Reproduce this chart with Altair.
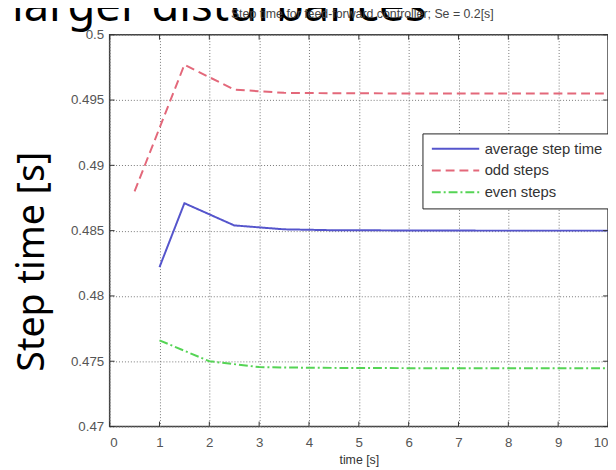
import altair as alt
import pandas as pd

slide_title = "larger disturbances"
big_ylabel = "Step time [s]"
chart_title = "Step time for feed-forward controller; Se = 0.2[s]"
x_title = "time [s]"

series_names = ["average step time", "odd steps", "even steps"]
series_colors = ["#5555cc", "#e3687a", "#55d455"]
series_dashes = [[1, 0], [9, 5], [9, 3, 2, 3]]

avg_t = [1.0, 1.5, 2.5, 3.5, 4.5, 5.5, 6.5, 7.5, 8.5, 9.5, 10.0]
avg_v = [0.4822, 0.4871, 0.4854, 0.48510, 0.48503, 0.48502, 0.48501, 0.48500, 0.48500, 0.48500, 0.48500]

odd_t = [0.5, 1.5, 2.5, 3.5, 4.5, 5.5, 6.5, 7.5, 8.5, 9.5, 10.0]
odd_v = [0.4880, 0.4977, 0.4958, 0.49555, 0.49552, 0.49551, 0.49550, 0.49550, 0.49550, 0.49550, 0.49550]

even_t = [1.0, 2.0, 3.0, 4.0, 5.0, 6.0, 7.0, 8.0, 9.0, 10.0]
even_v = [0.4766, 0.4750, 0.47455, 0.47450, 0.47448, 0.47447, 0.47447, 0.47446, 0.47446, 0.47446]

x_ticks = [0, 1, 2, 3, 4, 5, 6, 7, 8, 9, 10]
y_ticks = [0.47, 0.475, 0.48, 0.485, 0.49, 0.495, 0.5]

W, H = 505, 397

rows = []
for name, ts, vs in zip(series_names, [avg_t, odd_t, even_t], [avg_v, odd_v, even_v]):
    for t, v in zip(ts, vs):
        rows.append({"series": name, "t": t, "v": v})
df = pd.DataFrame(rows)

xscale = alt.Scale(domain=[0, 10], nice=False, zero=False)
yscale = alt.Scale(domain=[0.47, 0.5], nice=False, zero=False)

legend = alt.Legend(
    title=None, orient="none", legendX=317, legendY=100,
    strokeColor="#222", fillColor="white", padding=8, cornerRadius=0,
    symbolType="M-4,0H4", symbolSize=144, symbolStrokeWidth=2,
    symbolOffset=18, labelOffset=22,
    labelFont="Liberation Sans", labelFontSize=15, labelColor="#333",
    rowPadding=6,
)

axis_common = dict(
    grid=True, gridColor="#777", gridDash=[1, 2], gridWidth=1,
    domain=False, ticks=False,
    labelFont="Liberation Sans", labelFontSize=13.5, labelColor="#555",
)

lines = alt.Chart(df).mark_line(strokeWidth=2, clip=True).encode(
    x=alt.X("t:Q", scale=xscale, axis=alt.Axis(
        values=x_ticks, title=x_title, format="d", labelPadding=9,
        titleFont="Liberation Sans", titleFontSize=12.5, titleFontWeight="normal",
        titleColor="#333", titleY=40, titleBaseline="bottom", **axis_common)),
    y=alt.Y("v:Q", scale=yscale, axis=alt.Axis(
        values=y_ticks, title=None, format=".3~f", labelPadding=6, **axis_common)),
    color=alt.Color("series:N", scale=alt.Scale(domain=series_names, range=series_colors), legend=legend),
    strokeDash=alt.StrokeDash("series:N", scale=alt.Scale(domain=series_names, range=series_dashes), legend=legend),
)

xt = pd.DataFrame({"t": x_ticks})
yt = pd.DataFrame({"v": y_ticks})
tick_col = "#333"
tb = alt.Chart(xt).mark_rule(color=tick_col).encode(x="t:Q", y=alt.value(H), y2=alt.value(H - 5))
tt = alt.Chart(xt).mark_rule(color=tick_col).encode(x="t:Q", y=alt.value(0), y2=alt.value(5))
tl = alt.Chart(yt).mark_rule(color=tick_col).encode(y="v:Q", x=alt.value(0), x2=alt.value(5))
tr = alt.Chart(yt).mark_rule(color=tick_col).encode(y="v:Q", x=alt.value(W - 5), x2=alt.value(W))

txt = pd.DataFrame({"a": [slide_title], "b": [big_ylabel], "c": [chart_title]})
t_slide = alt.Chart(txt).mark_text(font="Noto Sans", fontSize=46, color="black", align="left", baseline="alphabetic").encode(
    text="a:N", x=alt.value(-99), y=alt.value(-14))
t_big = alt.Chart(txt).mark_text(font="Noto Sans", fontSize=38, color="black", align="center", baseline="middle", angle=270).encode(
    text="b:N", x=alt.value(-78), y=alt.value(230))
t_title = alt.Chart(txt).mark_text(font="Liberation Sans", fontSize=12.5, color="#444", align="center", baseline="middle").encode(
    text="c:N", x=alt.value(256), y=alt.value(-21))

chart = alt.layer(lines, tb, tt, tl, tr, t_slide, t_big, t_title).properties(
    width=W, height=H,
    background="white",
    autosize=alt.AutoSizeParams(type="none"),
    padding={"left": 103, "top": 24, "right": 0, "bottom": 44},
).configure_view(stroke="#444", strokeWidth=1.5)

chart.save("out.html", embed_options={"renderer": "svg", "actions": False})
